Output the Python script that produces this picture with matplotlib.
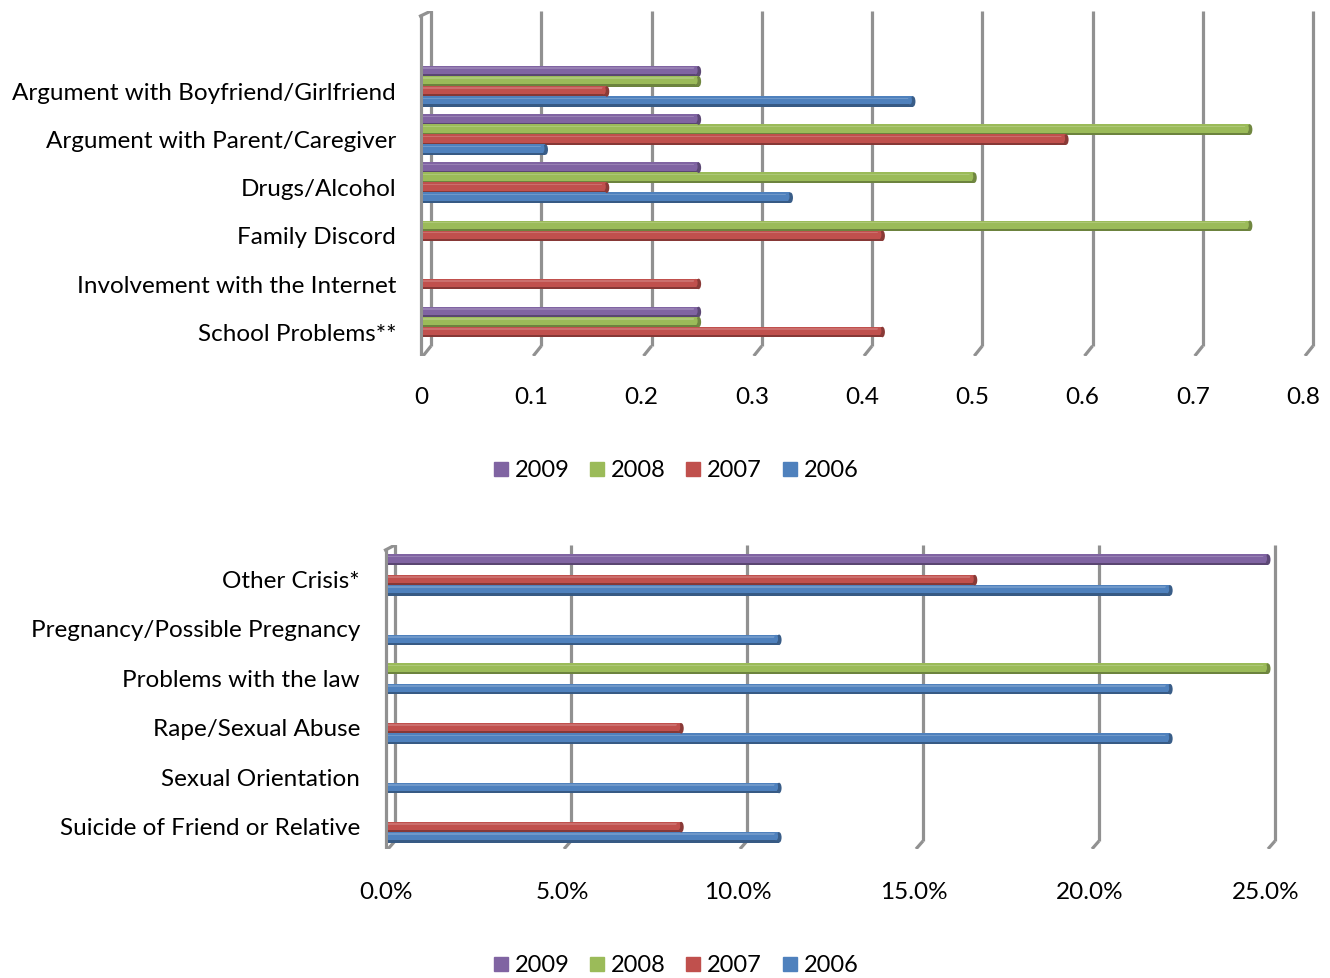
import matplotlib
matplotlib.use("Agg")
import matplotlib.pyplot as plt
import matplotlib.transforms as mtransforms
from matplotlib.patches import Rectangle, Ellipse
from matplotlib.colors import to_rgb
import numpy as np

plt.rcParams['font.family'] = ['Lato', 'DejaVu Sans']

# ---- data -------------------------------------------------------------
years = ["2009", "2008", "2007", "2006"]
colors = ["#8064A2", "#9BBB59", "#C0504D", "#4F81BD"]

top_categories = ["Argument with Boyfriend/Girlfriend",
                  "Argument with Parent/Caregiver",
                  "Drugs/Alcohol",
                  "Family Discord",
                  "Involvement with the Internet",
                  "School Problems**"]
top_2009 = [0.25, 0.25, 0.25, 0.0, 0.0, 0.25]
top_2008 = [0.25, 0.75, 0.50, 0.75, 0.0, 0.25]
top_2007 = [0.1667, 0.5833, 0.1667, 0.4167, 0.25, 0.4167]
top_2006 = [0.4444, 0.1111, 0.3333, 0.0, 0.0, 0.0]
top_ticks = [0, 0.1, 0.2, 0.3, 0.4, 0.5, 0.6, 0.7, 0.8]
top_ticklabels = ["0", "0.1", "0.2", "0.3", "0.4", "0.5", "0.6", "0.7", "0.8"]

bot_categories = ["Other Crisis*",
                  "Pregnancy/Possible Pregnancy",
                  "Problems with the law",
                  "Rape/Sexual Abuse",
                  "Sexual Orientation",
                  "Suicide of Friend or Relative"]
bot_2009 = [0.25, 0.0, 0.0, 0.0, 0.0, 0.0]
bot_2008 = [0.0, 0.0, 0.25, 0.0, 0.0, 0.0]
bot_2007 = [0.1667, 0.0, 0.0, 0.0833, 0.0, 0.0833]
bot_2006 = [0.2222, 0.1111, 0.2222, 0.2222, 0.1111, 0.1111]
bot_ticks = [0, 0.05, 0.10, 0.15, 0.20, 0.25]
bot_ticklabels = ["0.0%", "5.0%", "10.0%", "15.0%", "20.0%", "25.0%"]

W, H = 1330, 979
fig = plt.figure(figsize=(W / 100, H / 100), dpi=100)
FS = 17.5
FS_LEG = 17
GRID = "#919191"


def px_axes(left, top, right, bottom):
    return fig.add_axes([left / W, 1 - bottom / H, (right - left) / W, (bottom - top) / H])


def shade(c, f):
    r = np.array(to_rgb(c))
    return tuple(r * f) if f < 1 else tuple(r + (1 - r) * (f - 1))


def draw_chart(ax, cats, series, ticks, ticklabels, ppu, ylim, ax_h_px,
               wall_dx_px, foot_px, label_gap_px, label_shift, tick_off_px):
    ax.set_ylim(*ylim)
    ax.set_axis_off()
    tr = mtransforms.blended_transform_factory(ax.transData, ax.transAxes)
    dx = wall_dx_px / ppu
    fy = foot_px / ax_h_px
    cat_px = ax_h_px / abs(ylim[0] - ylim[1])

    # back-wall gridlines with floor feet
    for v in ticks:
        ax.plot([v + dx, v + dx], [fy, 1], color=GRID, lw=2.3, transform=tr,
                solid_capstyle='butt', zorder=1)
        ax.plot([v + dx, v], [fy, 0], color=GRID, lw=2.3, transform=tr,
                solid_capstyle='butt', zorder=1)
    # left side wall front edge
    top_off = 5 / ax_h_px
    ax.plot([-2.5 / ppu, -2.5 / ppu], [0, 1 - top_off], color=GRID, lw=2.3,
            transform=tr, zorder=1)
    ax.plot([-2.5 / ppu, dx], [1 - top_off, 1], color=GRID, lw=2.3,
            transform=tr, zorder=1)

    offsets = [-0.312, -0.104, 0.104, 0.312]
    h = 10.5 / cat_px
    nudge = 1.5 / cat_px
    cap_w = 5.0 / ppu
    idx = np.arange(len(cats))
    for vals, off, col in zip(series, offsets, colors):
        vals = np.asarray(vals)
        m = vals > 0
        y = idx[m] + off + nudge
        v = vals[m]
        ax.barh(y, v, height=h, color=shade(col, 0.70), zorder=3, linewidth=0)
        ax.barh(y - 0.11 * h, v, height=0.78 * h, color=col, zorder=4, linewidth=0)
        ax.barh(y - 0.30 * h, v, height=0.16 * h, color=shade(col, 1.18), zorder=5,
                linewidth=0)
        for yy, vv in zip(y, v):
            ax.add_patch(Ellipse((vv, yy), cap_w, h, color=shade(col, 0.72),
                                 zorder=6, linewidth=0))
            ax.add_patch(Ellipse((vv - 0.6 * cap_w, yy - 0.1 * h), cap_w * 0.8,
                                 h * 0.75, color=col, zorder=6.5, linewidth=0))

    for i, c in enumerate(cats):
        ax.annotate(c, xy=(0, i + label_shift), xycoords='data',
                    xytext=(-label_gap_px * 0.72, 0), textcoords='offset points',
                    ha='right', va='center', fontsize=FS, color='black',
                    annotation_clip=False)
    for v, t in zip(ticks, ticklabels):
        ax.annotate(t, xy=(v, 0), xycoords=tr, xytext=(-2 * 0.72, -tick_off_px * 0.72),
                    textcoords='offset points', ha='center', va='center',
                    fontsize=FS, color='black', annotation_clip=False)


# ---- top chart ----------------------------------------------------------
x0, ppu = 423, 1102.5
xl = (-0.012, 0.82)
ax1 = px_axes(x0 + xl[0] * ppu, 12, x0 + xl[1] * ppu, 357)
ax1.set_xlim(*xl)
draw_chart(ax1, top_categories, [top_2009, top_2008, top_2007, top_2006],
           top_ticks, top_ticklabels, ppu, (5.634, -1.538), 345,
           8, 10, 27, 0.16, 40)

# ---- bottom chart -------------------------------------------------------
x0b, ppub = 388, 3520
xlb = (-0.004, 0.262)
ax2 = px_axes(x0b + xlb[0] * ppub, 546, x0b + xlb[1] * ppub, 850)
ax2.set_xlim(*xlb)
draw_chart(ax2, bot_categories, [bot_2009, bot_2008, bot_2007, bot_2006],
           bot_ticks, bot_ticklabels, ppub, (5.577, -0.577), 304,
           7, 8, 28, 0.14, 43)

# ---- legends ------------------------------------------------------------
sq_x = [494, 590, 686, 783]
tx_x = [515, 611, 707, 804]
for ly in (470, 965):
    for sx, tx, col, yr in zip(sq_x, tx_x, colors, years):
        fig.patches.append(Rectangle((sx / W, 1 - (ly + 7) / H), 14 / W, 14 / H,
                                     transform=fig.transFigure, color=col))
        fig.text(tx / W, 1 - (ly + 1) / H, yr, ha='left', va='center',
                 fontsize=FS_LEG, color='black')

fig.savefig("out.png", dpi=100)
